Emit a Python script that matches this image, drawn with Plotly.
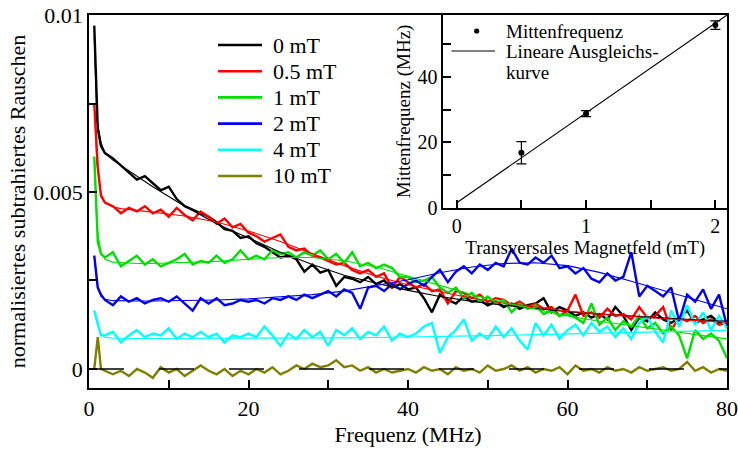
import plotly.graph_objects as go
import numpy as np

# ---------------- data (main plot, values in units of 1e-3) ----------------
freq = [0.66, 1.1, 1.5,
        2, 3, 4, 5, 6, 7, 8, 9, 10, 11, 12, 13, 14, 15, 16, 17, 18, 19, 20,
        21, 22, 23, 24, 25, 26, 27, 28, 29, 30, 31, 32, 33, 34, 35, 36, 37, 38, 39, 40,
        41, 42, 43, 44, 45, 46, 47, 48, 49, 50, 51, 52, 53, 54, 55, 56, 57, 58, 59, 60,
        61, 62, 63, 64, 65, 66, 67, 68, 69, 70, 71, 72, 73, 74, 75, 76, 77, 78, 79, 80]

noise_0mT = [9.7, 6.8, 6.3,
             6.1, 5.95, 5.75, 5.55, 5.35, 5.45, 5.25, 5.05, 5.15, 4.8, 4.6, 4.5, 4.4, 4.3, 4.15, 3.95, 3.9, 3.7, 3.75,
             3.55, 3.45, 3.3, 3.15, 3.2, 3.1, 2.75, 2.95, 2.72, 2.8, 2.35, 2.6, 2.55, 2.45, 2.6, 2.4, 2.5, 2.3, 2.4, 2.25,
             2.3, 2.0, 1.6, 2.1, 1.95, 1.85, 2.05, 1.9, 1.95, 1.8, 1.9, 1.75, 1.85, 1.7, 1.8, 1.85, 2.0, 1.6, 1.75, 1.65,
             1.5, 1.6, 1.45, 1.55, 1.4, 1.75, 1.5, 1.1, 1.45, 1.35, 1.6, 1.4, 1.3, 1.45, 1.65, 1.3, 1.4, 1.5, 1.3, 1.35]
noise_05mT = [7.5, 5.7, 4.9,
              4.7, 4.6, 4.4, 4.55, 4.45, 4.6, 4.4, 4.5, 4.3, 4.55, 4.35, 4.2, 4.45, 4.3, 4.1, 4.25, 4.0, 4.1, 3.85,
              3.75, 3.6, 3.7, 3.8, 3.45, 3.35, 3.4, 3.2, 3.15, 3.05, 2.95, 3.0, 2.8, 2.7, 2.8, 2.6, 2.7, 2.3, 2.6, 2.45,
              2.3, 2.4, 2.2, 2.25, 1.85, 2.2, 2.15, 2.0, 2.1, 1.9, 2.0, 1.95, 1.8, 1.9, 1.75, 1.85, 1.7, 1.75, 1.5, 1.65,
              2.1, 1.5, 1.6, 1.45, 1.7, 1.5, 1.55, 1.4, 1.75, 1.45, 1.5, 1.75, 1.1, 1.45, 1.35, 1.5, 1.3, 1.4, 1.25, 1.3]
noise_1mT = [6.0, 3.6, 3.25,
             3.15, 3.3, 2.9, 3.05, 3.2, 2.95, 3.1, 2.9, 3.0, 3.1, 3.25, 2.95, 3.05, 3.0, 3.2, 3.0, 3.1, 3.35, 3.1,
             3.2, 3.1, 3.35, 3.25, 3.3, 3.15, 3.3, 3.2, 3.35, 3.1, 3.25, 3.0, 3.3, 2.9, 3.0, 2.85, 2.95, 2.85, 2.6, 2.6,
             2.45, 2.5, 2.6, 2.3, 2.15, 2.3, 2.0, 2.15, 1.9, 2.05, 1.85, 1.95, 1.6, 1.85, 1.7, 1.8, 1.55, 1.65, 1.5, 1.55,
             1.45, 1.3, 1.85, 1.25, 1.45, 1.1, 1.35, 1.2, 1.5, 1.15, 1.3, 1.0, 1.2, 0.95, 0.3, 1.1, 0.85, 1.0, 0.8, 0.3]
noise_2mT = [3.2, 2.3, 2.1,
             1.95, 1.8, 2.05, 1.9, 2.0, 1.85, 1.95, 2.0, 1.9, 2.05, 1.85, 1.65, 2.0, 1.85, 2.0, 1.8, 1.85, 1.95, 1.9,
             1.95, 1.85, 2.0, 1.95, 2.05, 1.95, 2.1, 2.0, 2.1, 2.2, 2.05, 2.25, 2.15, 1.7, 2.3, 2.35, 2.2, 2.4, 2.25, 2.4,
             2.5, 2.35, 2.6, 2.8, 2.45, 2.75, 2.9, 2.7, 2.95, 2.8, 3.0, 2.9, 3.4, 3.0, 2.95, 3.15, 3.0, 3.2, 2.85, 2.9,
             2.7, 2.85, 2.55, 2.45, 2.7, 2.5, 2.6, 3.3, 2.05, 2.35, 2.2, 2.05, 2.3, 1.35, 2.1, 1.9, 2.25, 1.7, 2.1, 1.2]
noise_4mT = [1.65, 1.25, 0.95,
             0.95, 1.05, 0.75, 0.95, 1.1, 0.9, 1.0, 0.95, 1.15, 0.85, 1.0, 0.9, 1.05, 0.9, 1.0, 0.75, 0.95, 0.9, 1.0,
             0.9, 1.2, 0.95, 0.65, 1.0, 0.85, 1.1, 0.9, 1.05, 0.65, 1.1, 0.95, 1.15, 0.85, 1.05, 0.95, 1.2, 0.8, 1.0, 0.9,
             1.0, 1.2, 1.3, 0.45, 0.9, 1.1, 1.4, 0.8, 1.0, 0.85, 1.2, 0.9, 1.15, 0.8, 0.55, 1.3, 0.95, 1.25, 0.85, 1.1,
             1.25, 0.95, 1.3, 1.05, 1.2, 0.9, 1.15, 0.85, 1.3, 1.5, 1.05, 0.75, 1.65, 1.2, 1.8, 1.25, 1.6, 1.1, 1.5, 1.15]
noise_10mT = [0.0, 0.9, 0.0,
              -0.05, -0.15, -0.05, -0.2, 0.0, -0.1, -0.25, 0.05, -0.1, 0.0, -0.2, -0.05, 0.1, -0.05, -0.15, 0.0, -0.2, -0.05, -0.15,
              0.0, -0.1, 0.05, -0.15, -0.05, 0.1, 0.0, 0.15, 0.05, 0.1, 0.25, 0.05, 0.1, -0.05, 0.05, -0.1, 0.0, -0.1, -0.05, 0.0,
              -0.1, 0.05, -0.05, 0.0, -0.15, 0.05, -0.05, 0.0, -0.1, 0.1, -0.05, 0.0, 0.1, -0.05, 0.05, -0.1, 0.0, -0.05, 0.05, -0.15,
              0.1, -0.05, 0.0, -0.1, 0.05, -0.05, 0.0, -0.1, 0.05, -0.05, 0.0, 0.05, -0.05, 0.0, 0.2, -0.05, 0.05, -0.1, 0.0, -0.05]

fit_freq = [0.66, 1, 1.5, 2, 3, 4, 6, 8, 12, 16, 20, 24, 28, 32, 36, 40, 44, 48, 52, 56, 60, 64, 68, 72, 76, 80]
fit_0mT = [9.4, 7.0, 6.4, 6.1, 5.9, 5.75, 5.45, 5.15, 4.6, 4.1, 3.7, 3.3, 2.95, 2.65, 2.42, 2.22, 2.05, 1.91, 1.8, 1.7, 1.62, 1.55, 1.49, 1.44, 1.39, 1.35]
fit_05mT = [7.5, 5.8, 4.95, 4.7, 4.58, 4.53, 4.48, 4.43, 4.32, 4.15, 3.9, 3.6, 3.25, 2.92, 2.62, 2.38, 2.18, 2.0, 1.86, 1.74, 1.64, 1.55, 1.48, 1.42, 1.37, 1.32]
fit_1mT = [6.0, 4.0, 3.3, 3.1, 3.02, 3.0, 2.98, 2.98, 3.0, 3.04, 3.1, 3.15, 3.15, 3.06, 2.88, 2.62, 2.35, 2.1, 1.88, 1.68, 1.5, 1.35, 1.22, 1.1, 0.97, 0.85]
fit_2mT = [3.2, 2.4, 2.05, 1.97, 1.93, 1.92, 1.92, 1.92, 1.93, 1.95, 1.98, 2.03, 2.1, 2.2, 2.35, 2.52, 2.72, 2.88, 2.98, 3.0, 2.92, 2.73, 2.48, 2.22, 1.95, 1.7]
fit_4mT = [1.65, 1.3, 1.0, 0.9, 0.87, 0.86, 0.86, 0.86, 0.86, 0.86, 0.87, 0.87, 0.88, 0.88, 0.89, 0.9, 0.91, 0.93, 0.95, 0.97, 0.99, 1.01, 1.03, 1.05, 1.07, 1.09]
fit10_freq = [0.0, 80.0]
fit_10mT = [0.0, 0.0]

series_names = ["0 mT", "0.5 mT", "1 mT", "2 mT", "4 mT", "10 mT"]
series_colors = ["#000000", "#ff0000", "#00e000", "#0000ee", "#00ffff", "#808000"]

# ---------------- data (inset) ----------------
field_mT = [0.5, 1.0, 2.0]
center_MHz = [16.8, 28.8, 55.9]
center_err = [3.4, 0.9, 1.3]
linfit_field = [0.0, 2.09]
linfit_MHz = [1.5, 59.0]

SCALE = 1e-3
FONT = "Liberation Serif, Times New Roman, Times, serif"

noise = [noise_0mT, noise_05mT, noise_1mT, noise_2mT, noise_4mT, noise_10mT]
fits = [(fit_freq, fit_0mT), (fit_freq, fit_05mT), (fit_freq, fit_1mT),
        (fit_freq, fit_2mT), (fit_freq, fit_4mT)]

fig = go.Figure()
for name, col, vals in zip(series_names, series_colors, noise):
    fig.add_trace(go.Scatter(x=freq, y=np.array(vals) * SCALE, mode="lines", name=name,
                             line=dict(color=col, width=2.4), showlegend=False,
                             xaxis="x", yaxis="y"))
for col, (fx, fv) in zip(series_colors, fits):
    fig.add_trace(go.Scatter(x=fx, y=np.array(fv) * SCALE, mode="lines",
                             line=dict(color=col, width=1.1), showlegend=False,
                             xaxis="x", yaxis="y"))
fig.add_trace(go.Scatter(x=fit10_freq, y=np.array(fit_10mT) * SCALE, mode="lines",
                         line=dict(color="black", width=1.5, dash="35px,35px"),
                         showlegend=False, xaxis="x", yaxis="y"))

# inset traces
fig.add_trace(go.Scatter(x=linfit_field, y=linfit_MHz, mode="lines",
                         line=dict(color="black", width=1.1), showlegend=False,
                         xaxis="x2", yaxis="y2"))
fig.add_trace(go.Scatter(x=field_mT, y=center_MHz, mode="markers",
                         marker=dict(color="black", size=6),
                         error_y=dict(type="data", array=center_err, color="black",
                                      thickness=1.2, width=5),
                         showlegend=False, xaxis="x2", yaxis="y2"))

# ---------------- layout ----------------
W, H = 738, 453
ML, MR, MT, MB = 89, 11, 15, 65
PW = W - ML - MR
PH = H - MT - MB


def px(x):
    return (x - ML) / PW


def py(y):
    return (H - MB - y) / PH


axis_common = dict(showline=True, linecolor="black", linewidth=1.5, mirror=True,
                   ticks="inside", ticklen=8, tickwidth=1.5, tickcolor="black",
                   showgrid=False, zeroline=False, automargin=False)

fig.update_layout(
    width=W, height=H,
    margin=dict(l=ML, r=MR, t=MT, b=MB, autoexpand=False),
    paper_bgcolor="white", plot_bgcolor="white",
    font=dict(family=FONT, color="black", size=22),
    showlegend=False,
    xaxis=dict(domain=[0, 1], range=[0, 80], anchor="y",
               tickvals=[0, 10, 20, 30, 40, 50, 60, 70, 80],
               ticktext=["0", "", "20", "", "40", "", "60", "", "80"],
               tickfont=dict(size=22, family=FONT),
               title=dict(text="Frequenz (MHz)", font=dict(size=22, family=FONT), standoff=6),
               **axis_common),
    yaxis=dict(domain=[0, 1], range=[-0.000537, 0.01], anchor="x",
               tickvals=[0, 0.0025, 0.005, 0.0075, 0.01],
               ticktext=["0", "", "0.005", "", "0.01"],
               tickfont=dict(size=22, family=FONT),
               title=dict(text="normalisiertes subtrahiertes Rauschen",
                          font=dict(size=22, family=FONT), standoff=2),
               **axis_common),
    xaxis2=dict(domain=[0.5553, 1.0], range=[-0.104, 2.09], anchor="y2",
                tickvals=[0, 0.5, 1, 1.5, 2], ticktext=["0", "", "1", "", "2"],
                tickfont=dict(size=20, family=FONT),
                title=dict(text="Transversales Magnetfeld (mT)",
                           font=dict(size=19, family=FONT), standoff=0),
                **axis_common),
    yaxis2=dict(domain=[0.4834, 1.0], range=[0, 59], anchor="x2",
                tickvals=[0, 10, 20, 30, 40, 50], ticktext=["0", "", "20", "", "40", ""],
                tickfont=dict(size=20, family=FONT),
                title=dict(text="Mittenfrequenz (MHz)",
                           font=dict(size=19, family=FONT), standoff=2),
                **axis_common),
)

# main legend (drawn manually to match compact spacing)
shapes = []
annotations = []
for i, (name, col) in enumerate(zip(series_names, series_colors)):
    yy = 45 + 26.2 * i
    shapes.append(dict(type="line", xref="paper", yref="paper",
                       x0=px(218), x1=px(262), y0=py(yy), y1=py(yy),
                       line=dict(color=col, width=2.6), layer="above"))
    annotations.append(dict(text=name, xref="paper", yref="paper", x=px(271), y=py(yy),
                            xanchor="left", yanchor="middle", showarrow=False,
                            font=dict(size=22, family=FONT, color="black")))

# inset legend
r = 2.6
shapes.append(dict(type="circle", xref="paper", yref="paper",
                   x0=px(476.7 - r), x1=px(476.7 + r), y0=py(31 + r), y1=py(31 - r),
                   fillcolor="black", line=dict(color="black", width=0), layer="above"))
shapes.append(dict(type="line", xref="paper", yref="paper",
                   x0=px(451.5), x1=px(495), y0=py(51), y1=py(51),
                   line=dict(color="black", width=1.1), layer="above"))
for txt, yy in [("Mittenfrequenz", 31.5), ("Lineare Ausgleichs-", 51.5), ("kurve", 72)]:
    annotations.append(dict(text=txt, xref="paper", yref="paper", x=px(504), y=py(yy),
                            xanchor="left", yanchor="middle", showarrow=False,
                            font=dict(size=19, family=FONT, color="black")))

fig.update_layout(shapes=shapes, annotations=annotations)

fig.write_html("out.html", config={"displayModeBar": False},
               post_script="document.body.style.margin='0';document.body.style.overflow='hidden';")
